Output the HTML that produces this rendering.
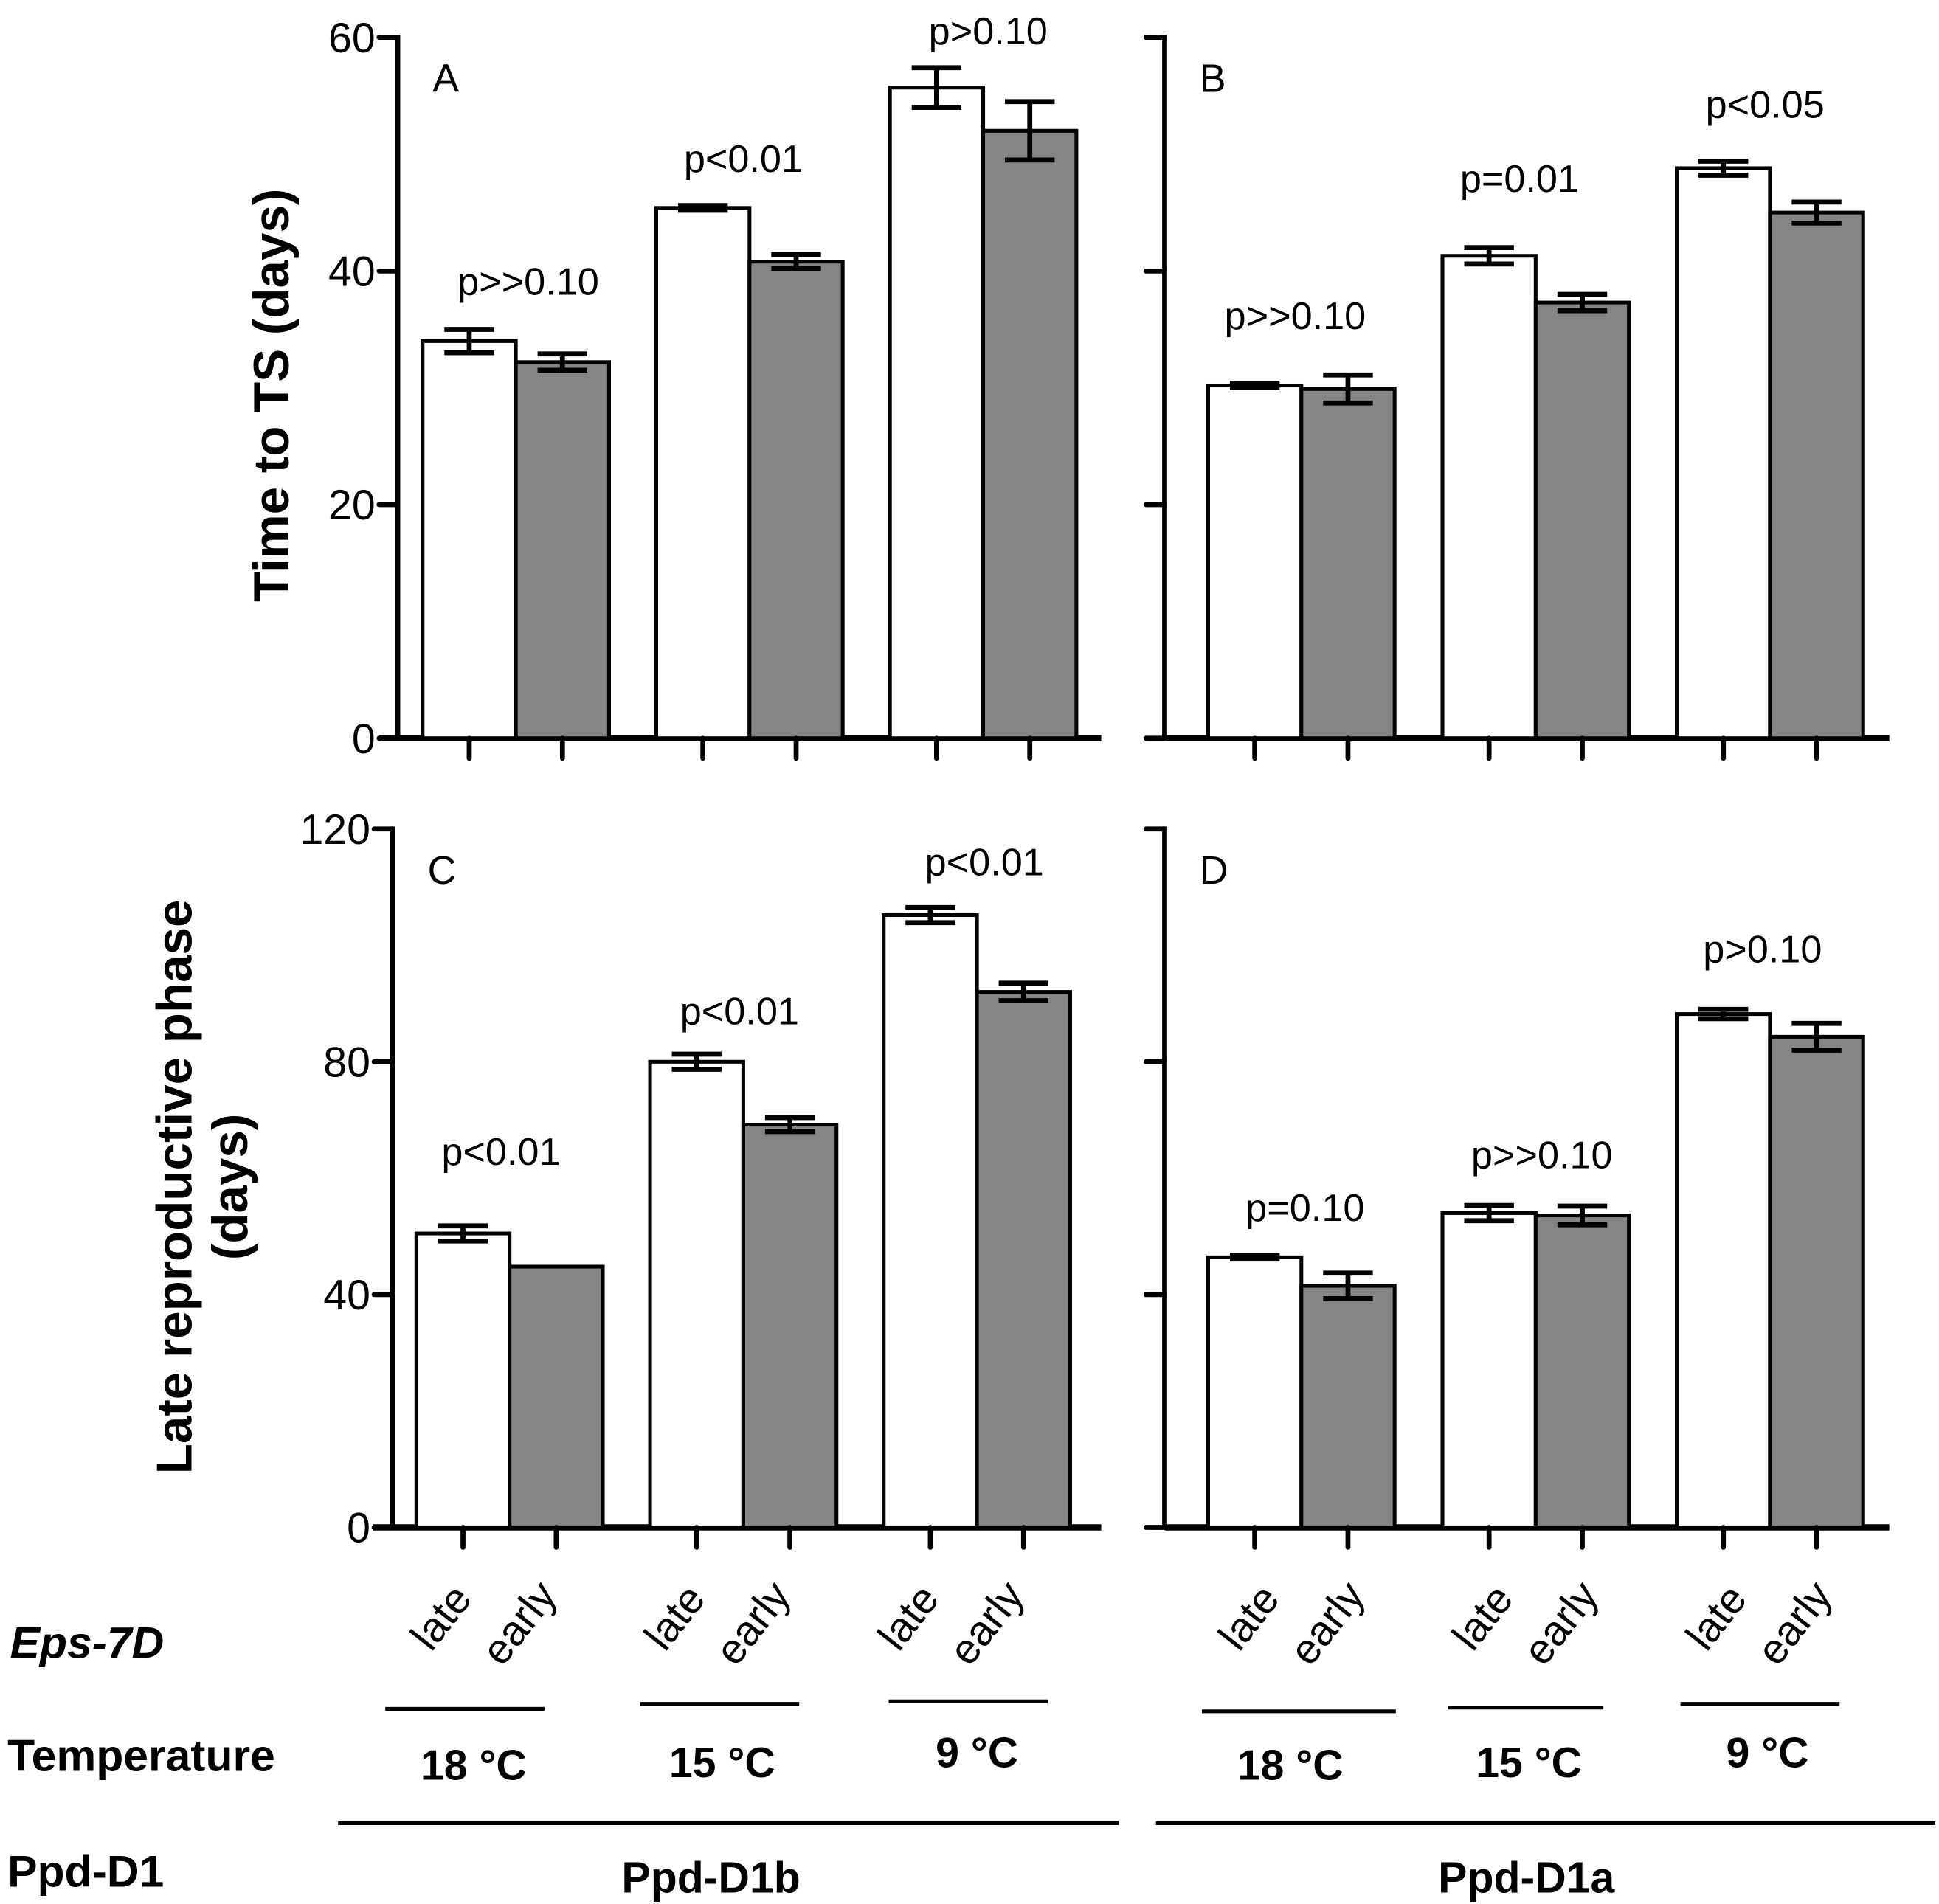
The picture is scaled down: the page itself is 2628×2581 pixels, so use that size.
<!DOCTYPE html>
<html><head><meta charset="utf-8"><style>
html,body{margin:0;padding:0;background:#fff}
svg{display:block}
text{font-family:"Liberation Sans",sans-serif;fill:#000}
</style></head><body>
<svg id="chart" width="2628" height="2581" viewBox="0 0 1560 1532" xmlns="http://www.w3.org/2000/svg">
<g id="g"></g>
</svg>
<script>
// Data
const categories = ["18 °C","15 °C","9 °C"];
const genotypes = ["late","early"];
const aLate = [34.0,45.4,55.7], aLateErr=[1.0,0.2,1.7];
const aEarly = [32.2,40.8,52.0], aEarlyErr=[0.7,0.6,2.5];
const bLate = [30.2,41.3,48.8], bLateErr=[0.2,0.7,0.6];
const bEarly = [29.9,37.3,45.0], bEarlyErr=[1.2,0.7,0.9];
const cLate = [50.5,80.0,105.2], cLateErr=[1.3,1.3,1.3];
const cEarly = [44.8,69.2,92.0], cEarlyErr=[0,1.2,1.5];
const dLate = [46.4,54.0,88.2], dLateErr=[0.3,1.3,0.8];
const dEarly = [41.5,53.6,84.3], dEarlyErr=[2.2,1.6,2.3];
const pA = ["p>>0.10","p<0.01","p>0.10"];
const pB = ["p>>0.10","p=0.01","p<0.05"];
const pC = ["p<0.01","p<0.01","p<0.01"];
const pD = ["p=0.10","p>>0.10","p>0.10"];
const ticksTop = [0,20,40,60];
const ticksBot = [0,40,80,120];

const NS="http://www.w3.org/2000/svg";
const root=document.getElementById('g');
function el(tag,attrs,parent){const e=document.createElementNS(NS,tag);for(const k in attrs)e.setAttribute(k,attrs[k]);(parent||root).appendChild(e);return e;}
function txt(s,attrs,parent){const e=el('text',attrs,parent);e.textContent=s;return e;}

function panel(cfg){
  const g=el('g',{});
  
  
  const y=v=>cfg.y0-(v/cfg.max)*(cfg.y0-cfg.y1);
  const ax=el('line',{x1:cfg.ax,y1:cfg.y1-2,x2:cfg.ax,y2:cfg.y0,stroke:'#000','stroke-width':4},g);
  
  
  const xa=el('line',{x1:cfg.xs,y1:cfg.y0,x2:cfg.xe,y2:cfg.y0,stroke:'#000','stroke-width':5},g);
  
  
  cfg.ticks.forEach(t=>{
    const tk=el('line',{x1:cfg.ax-15,y1:y(t),x2:cfg.ax,y2:y(t),stroke:'#000','stroke-width':4,'stroke-linecap':'round'},g);
    
    
    if(cfg.labels){
      const tl=txt(String(t),{x:cfg.ax-18,y:y(t)+12,'text-anchor':'end','font-size':34},g);
      
      
    }
  });
  const lt=txt(cfg.letter,{x:cfg.ax+28,y:cfg.y1+44,'font-size':32},g);
  
  
  const bw=75;
  categories.forEach((c,i)=>{
    const gx=cfg.bx+i*cfg.gap;
    [[cfg.late,cfg.lateErr,'#fff','late'],[cfg.early,cfg.earlyErr,'#858585','early']].forEach((s,j)=>{
      const v=s[0][i],e=s[1][i],x=gx+j*bw;
      const r=el('rect',{x:x,y:y(v),width:bw,height:cfg.y0-y(v),fill:s[2],stroke:'#000','stroke-width':3},g);
      
      
      if(e>0){
        const cx=x+bw/2;
        const eb=el('path',{d:`M${cx-20},${y(v+e)}H${cx+20}M${cx},${y(v+e)}V${y(v-e)}M${cx-20},${y(v-e)}H${cx+20}`,stroke:'#000','stroke-width':4,fill:'none'},g);
        
        
      }
      const xt=el('line',{x1:x+bw/2,y1:cfg.y0,x2:x+bw/2,y2:cfg.y0+16,stroke:'#000','stroke-width':4,'stroke-linecap':'round'},g);
      
      
    });
    const top=Math.max(cfg.late[i]+cfg.lateErr[i],cfg.early[i]+cfg.earlyErr[i]);
    const pl=txt(cfg.p[i],{x:gx+cfg.pDx[i],y:y(top)-cfg.pOff[i],'text-anchor':'middle','font-size':31},g);
    
    
  });
}
panel({name:'panel-a',letter:'A',ax:320,y0:594,y1:30,max:60,xs:305,xe:886,bx:340,gap:188,ticks:ticksTop,labels:true,late:aLate,lateErr:aLateErr,early:aEarly,earlyErr:aEarlyErr,p:pA,pOff:[28,27,19],pDx:[85,70,79]});
panel({name:'panel-b',letter:'B',ax:937,y0:594,y1:30,max:60,xs:937,xe:1520,bx:972,gap:188.5,ticks:ticksTop,labels:false,late:bLate,lateErr:bLateErr,early:bEarly,earlyErr:bEarlyErr,p:pB,pOff:[37,45,35],pDx:[70,62,71]});
panel({name:'panel-c',letter:'C',ax:316,y0:1229,y1:667,max:120,xs:300,xe:886,bx:335,gap:188,ticks:ticksBot,labels:true,late:cLate,lateErr:cLateErr,early:cEarly,earlyErr:cEarlyErr,p:pC,pOff:[49,24,26],pDx:[68,72,81]});
panel({name:'panel-d',letter:'D',ax:937,y0:1229,y1:667,max:120,xs:937,xe:1520,bx:972,gap:188.5,ticks:ticksBot,labels:false,late:dLate,lateErr:dLateErr,early:dEarly,earlyErr:dEarlyErr,p:pD,pOff:[28,30,38],pDx:[78,80,69]});
</script>
<svg style="position:absolute;left:0;top:0" width="2628" height="2581" viewBox="0 0 1560 1532" xmlns="http://www.w3.org/2000/svg">
<text transform="translate(232,318) rotate(-90)" text-anchor="middle" font-size="40" font-weight="bold">Time to TS (days)</text>
<text transform="translate(154,955) rotate(-90)" text-anchor="middle" font-size="40" font-weight="bold">Late reproductive phase</text>
<text transform="translate(199,955) rotate(-90)" text-anchor="middle" font-size="40" font-weight="bold">(days)</text>
<g font-size="34">
<text transform="translate(347,1330) rotate(-52)">late</text><text transform="translate(404,1342) rotate(-52)">early</text>
<text transform="translate(535,1330) rotate(-52)">late</text><text transform="translate(592,1342) rotate(-52)">early</text>
<text transform="translate(723,1330) rotate(-52)">late</text><text transform="translate(780,1342) rotate(-52)">early</text>
<text transform="translate(997,1330) rotate(-52)">late</text><text transform="translate(1054,1342) rotate(-52)">early</text>
<text transform="translate(1185,1330) rotate(-52)">late</text><text transform="translate(1242,1342) rotate(-52)">early</text>
<text transform="translate(1373,1330) rotate(-52)">late</text><text transform="translate(1430,1342) rotate(-52)">early</text>
</g>
<text x="8" y="1334" font-size="36" font-weight="bold" font-style="italic">Eps-7D</text>
<text x="6" y="1425" font-size="36" font-weight="bold">Temperature</text>
<text x="6" y="1518" font-size="36" font-weight="bold">Ppd-D1</text>
<g stroke="#000" stroke-width="3">
<line x1="310" y1="1375" x2="438" y2="1375"/><line x1="515" y1="1371" x2="643" y2="1371"/><line x1="715" y1="1369" x2="843" y2="1369"/>
<line x1="967" y1="1377" x2="1123" y2="1377"/><line x1="1165" y1="1374" x2="1290" y2="1374"/><line x1="1352" y1="1371" x2="1480" y2="1371"/>
<line x1="272" y1="1467" x2="900" y2="1467"/><line x1="930" y1="1467" x2="1557" y2="1467"/>
</g>
<g font-size="34" font-weight="bold" text-anchor="middle">
<text x="381" y="1432">18 °C</text><text x="581" y="1430">15 °C</text><text x="786" y="1422">9 °C</text>
<text x="1038" y="1432">18 °C</text><text x="1230" y="1430">15 °C</text><text x="1422" y="1422">9 °C</text>
</g>
<text x="572" y="1523" text-anchor="middle" font-size="35" font-weight="bold">Ppd-D1b</text>
<text x="1228" y="1523" text-anchor="middle" font-size="35" font-weight="bold">Ppd-D1a</text>
</svg>
</body></html>
